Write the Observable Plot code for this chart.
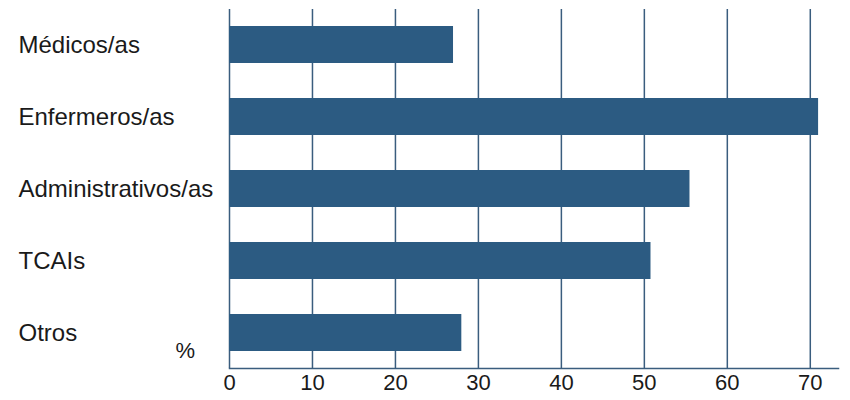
<!DOCTYPE html>
<html>
<head>
<meta charset="utf-8">
<script src="https://cdn.jsdelivr.net/npm/d3@7"></script>
<script src="https://cdn.jsdelivr.net/npm/@observablehq/plot@0.6"></script>
<style>
  html, body { margin: 0; padding: 0; background: #fff; }
  #chart { width: 850px; height: 400px; }
</style>
</head>
<body>
<div id="chart"></div>
<script>
const categories = ["Médicos/as", "Enfermeros/as", "Administrativos/as", "TCAIs", "Otros"];
const values = [27.0, 71.0, 55.5, 50.8, 28.0];
const xTicks = [0, 10, 20, 30, 40, 50, 60, 70];
const unitLabel = "%";

const data = categories.map((c, i) => ({category: c, value: values[i]}));
const barColor = "#2c5b82";
const lineColor = "#3a5d7e";
const textColor = "#1a1a1a";

const chart = Plot.plot({
  width: 850,
  height: 400,
  marginLeft: 229,
  marginRight: 12,
  marginTop: 9,
  marginBottom: 32,
  style: {fontFamily: "'Liberation Sans', Arial, Helvetica, sans-serif", fontSize: "23px", color: textColor, background: "#fff"},
  x: {domain: [0, 73.4], ticks: xTicks},
  y: {domain: categories, paddingInner: 0.49, paddingOuter: 0.22},
  marks: [
    Plot.ruleX(xTicks, {stroke: lineColor, strokeWidth: 1.5, strokeOpacity: 1}),
    Plot.barX(data, {x: "value", y: "category", fill: barColor}),
    Plot.axisX({ticks: xTicks, tickSize: 0, tickPadding: 6, label: null, fill: textColor, fontSize: 22}),
    Plot.axisY({tickSize: 0, tickPadding: 211, textAnchor: "start", label: null, fill: textColor, fontSize: 24}),
    Plot.text([unitLabel], {text: d => d, frameAnchor: "bottom-left", dx: -54, dy: -11, fontSize: 22, fill: textColor}),
    Plot.frame({anchor: "bottom", stroke: lineColor, strokeWidth: 1.5})
  ]
});
document.getElementById("chart").appendChild(chart);
</script>
</body>
</html>
